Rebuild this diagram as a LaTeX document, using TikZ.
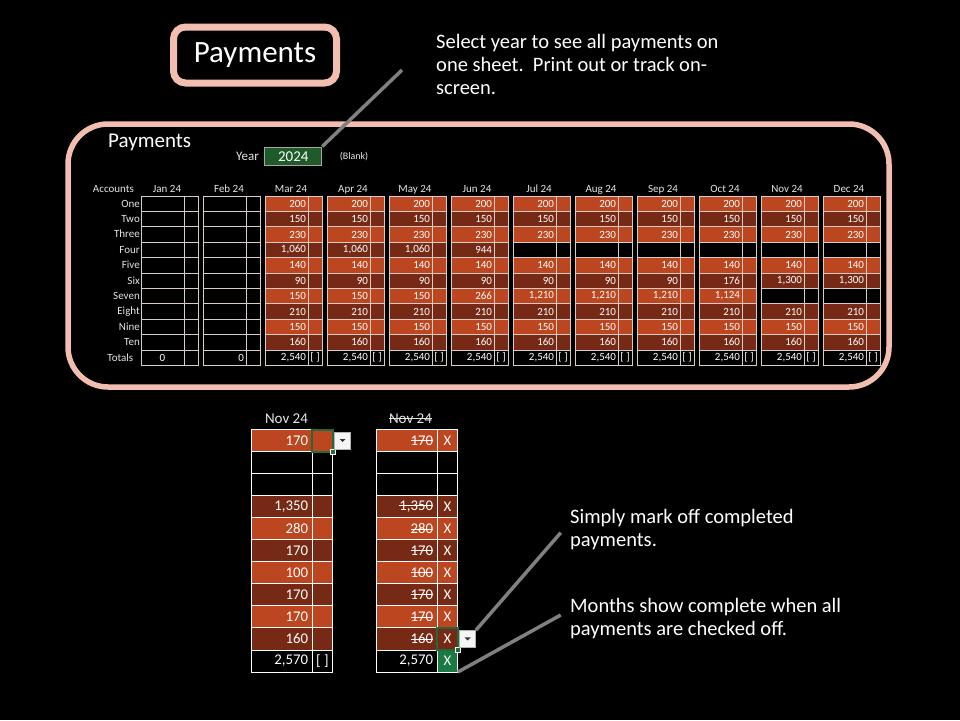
\documentclass[tikz,border=0pt]{standalone}
\usepackage{fontspec}
\setmainfont{Carlito}
\usetikzlibrary{positioning}

\definecolor{PayLight}{RGB}{188,70,32}
\definecolor{PayDark}{RGB}{118,42,22}
\definecolor{CellLine}{RGB}{214,204,200}
\definecolor{FramePink}{RGB}{242,190,176}
\definecolor{YearGreen}{RGB}{30,90,42}
\definecolor{DoneGreen}{RGB}{26,122,68}
\definecolor{SelGreen}{RGB}{36,104,62}
\definecolor{CalloutGray}{RGB}{128,128,128}
\definecolor{SoftWhite}{RGB}{228,228,228}
\def\blankmark{-}
\newcommand\strk[1]{\leavevmode\setbox0=\hbox{#1}%
   \rlap{\rule[0.3em]{\wd0}{0.7pt}}\box0}

\begin{document}
\begin{tikzpicture}[x=1pt, y=-1pt,
      valcell/.style={draw=CellLine, line width=0.8pt, anchor=north west,
         outer sep=0pt, inner xsep=2pt, inner ysep=0pt, text width=39pt,
         minimum height=15.4pt, align=right, text=white,
         font=\fontsize{11}{12}\selectfont},
      markcell/.style={draw=CellLine, line width=0.8pt, anchor=north west,
         outer sep=0pt, inner sep=0pt, minimum width=14pt,
         minimum height=15.4pt, text=white,
         font=\fontsize{11}{12}\selectfont},
      bigval/.style={valcell, draw=white, line width=1pt, inner xsep=4pt,
         text width=53pt, minimum height=22.05pt,
         font=\fontsize{14.8}{16}\selectfont},
      bigmark/.style={markcell, draw=white, line width=1pt,
         minimum width=20.8pt, minimum height=22.05pt,
         font=\fontsize{14.8}{16}\selectfont},
      monthhead/.style={text=SoftWhite, inner sep=0pt, anchor=base,
         font=\fontsize{11}{12}\selectfont},
      acclabel/.style={text=SoftWhite, anchor=base east, inner sep=0pt,
         font=\fontsize{11}{12}\selectfont},
      note/.style={text=white, anchor=north west, align=left, inner sep=0pt,
         font=\fontsize{20.5}{22.6}\selectfont},
      callout/.style={CalloutGray, line width=3.5pt},
      selbox/.style={SelGreen, line width=2pt},
      dropbtn/.style={draw=gray!60, fill=gray!8, line width=0.6pt,
         minimum width=16pt, minimum height=17pt, inner sep=0pt}]
   \useasboundingbox (0,0) rectangle (960,720);
   \fill[black] (0,0) rectangle (960,720);

   % title and sheet frame
   \node (title) at (255,55) [draw=FramePink, line width=7pt,
      rounded corners=12pt, minimum width=163pt, minimum height=56pt,
      text=white, font=\fontsize{31}{36}\selectfont] {Payments};
   \draw[FramePink, line width=5.5pt, rounded corners=40pt]
      (68,124) rectangle (889,387);

   \node (sheet) at (108,142) [anchor=west, inner sep=0pt, text=white,
      font=\fontsize{21}{24}\selectfont] {Payments};
   \node (yearlab) at (259,156) [anchor=east, inner sep=0pt, text=SoftWhite,
      font=\fontsize{13}{15}\selectfont] {Year};
   \node (year) at (293.3,156.2) [fill=YearGreen, draw=gray!70,
      line width=0.8pt, minimum width=57pt, minimum height=18.5pt,
      inner sep=0pt, text=white, font=\fontsize{15}{17}\selectfont] {2024};
   \node (blank) at (354,157) [text=SoftWhite, inner sep=0pt,
      font=\fontsize{10}{12}\selectfont] {(Blank)};

   % account names
   \node[acclabel] (acc-0) at (134,192.5) {Accounts};
   \foreach \acc [count=\r] in {One,Two,Three,Four,Five,Six,Seven,Eight,Nine,Ten}
      \node[acclabel] (acc-\r) at (140,{207.1+15.4*(\r-1)}) {\acc};
   \node[acclabel] (acc-11) at (133.5,361) {Totals};

   % one block per month
   \foreach \mon/\vals/\tot/\mk/\al [count=\i] in {
      Jan 24/{-,-,-,-,-,-,-,-,-,-}/0/{}/center,
      Feb 24/{-,-,-,-,-,-,-,-,-,-}/0/{}/right,
      Mar 24/{200,150,230,1{,}060,140,90,150,210,150,160}/2{,}540/{[ ]}/right,
      Apr 24/{200,150,230,1{,}060,140,90,150,210,150,160}/2{,}540/{[ ]}/right,
      May 24/{200,150,230,1{,}060,140,90,150,210,150,160}/2{,}540/{[ ]}/right,
      Jun 24/{200,150,230,944,140,90,266,210,150,160}/2{,}540/{[ ]}/right,
      Jul 24/{200,150,230,-,140,90,1{,}210,210,150,160}/2{,}540/{[ ]}/right,
      Aug 24/{200,150,230,-,140,90,1{,}210,210,150,160}/2{,}540/{[ ]}/right,
      Sep 24/{200,150,230,-,140,90,1{,}210,210,150,160}/2{,}540/{[ ]}/right,
      Oct 24/{200,150,230,-,140,176,1{,}124,210,150,160}/2{,}540/{[ ]}/right,
      Nov 24/{200,150,230,-,140,1{,}300,-,210,150,160}/2{,}540/{[ ]}/right,
      Dec 24/{200,150,230,-,140,1{,}300,-,210,150,160}/2{,}540/{[ ]}/right}{
      \pgfmathsetmacro\bx{141+62*(\i-1)}
      \node[monthhead] (head-\i) at (\bx+26,192.5) {\mon};
      \foreach \v [count=\r] in \vals {
         \pgfmathsetmacro\by{196+15.4*(\r-1)}
         \edef\cellraw{\v}%
         \ifx\cellraw\blankmark \def\cellfill{black}\def\cellval{}%
         \else \ifodd\r\relax \def\cellfill{PayLight}\else
            \def\cellfill{PayDark}\fi \let\cellval\v \fi
         \node[valcell, fill=\cellfill] (val-\i-\r) at (\bx,\by) {\cellval};
         \node[markcell, fill=\cellfill] (mark-\i-\r) at (val-\i-\r.north east) {};
      }
      \node[valcell, fill=black, align=\al] (val-\i-11) at (\bx,350) {\tot};
      \node[markcell, fill=black] (mark-\i-11) at (val-\i-11.north east) {\mk};
   }

   % zoomed November, before and after marking
   \node[monthhead, font=\fontsize{15}{17}\selectfont] (nov) at (286.5,423.5) {Nov 24};
   \node[monthhead, font=\fontsize{15}{17}\selectfont] (novdone) at (410.5,423.5)
      {\strk{Nov 24}};
   \foreach \v [count=\r] in {170,-,-,1{,}350,280,170,100,170,170,160} {
      \pgfmathsetmacro\by{429.5+22.05*(\r-1)}
      \edef\cellraw{\v}%
      \ifx\cellraw\blankmark \def\cellfill{black}\def\cellval{}\def\cellmark{}%
      \else \ifodd\r\relax \def\cellfill{PayLight}\else
         \def\cellfill{PayDark}\fi \let\cellval\v \def\cellmark{X}\fi
      \node[bigval, fill=\cellfill] (nv-\r) at (251,\by) {\cellval};
      \node[bigmark, fill=\cellfill] (nm-\r) at (nv-\r.north east) {};
      \node[bigval, fill=\cellfill] (dv-\r) at (376,\by) {\strk{\cellval}};
      \node[bigmark, fill=\cellfill] (dm-\r) at (dv-\r.north east) {\cellmark};
   }
   \node[bigval, fill=black] (nv-11) at (251,650) {2{,}570};
   \node[bigmark, fill=black] (nm-11) at (nv-11.north east) {[ ]};
   \node[bigval, fill=black] (dv-11) at (376,650) {2{,}570};
   \node[bigmark, fill=DoneGreen] (dm-11) at (dv-11.north east) {X};

   % selected cells with their drop-down buttons
   \draw[selbox] (nm-1.north west) rectangle (nm-1.south east);
   \fill[SelGreen, draw=white, line width=0.5pt]
      ([shift={(-2.5,-2.5)}]nm-1.south east) rectangle ([shift={(2.5,2.5)}]nm-1.south east);
   \node[dropbtn, right=1.5pt of nm-1] (drop-1) {};
   \fill[gray!40!black] ([shift={(-3,-1.5)}]drop-1.center) --
      ([shift={(3,-1.5)}]drop-1.center) -- ([shift={(0,1.5)}]drop-1.center) -- cycle;

   \draw[selbox] (dm-10.north west) rectangle (dm-10.south east);
   \fill[SelGreen, draw=white, line width=0.5pt]
      ([shift={(-2.5,-2.5)}]dm-10.south east) rectangle ([shift={(2.5,2.5)}]dm-10.south east);
   \node[dropbtn, right=1.5pt of dm-10] (drop-2) {};
   \fill[gray!40!black] ([shift={(-3,-1.5)}]drop-2.center) --
      ([shift={(3,-1.5)}]drop-2.center) -- ([shift={(0,1.5)}]drop-2.center) -- cycle;

   % notes and their pointers
   \node[note] (yearnote) at (436,34.5) {Select year to see all payments on\\
      one sheet.\ \ Print out or track on-\\screen.};
   \node[note] (marknote) at (570,509.5) {Simply mark off completed\\payments.};
   \node[note] (donenote) at (570,598) {Months show complete when all\\
      payments are checked off.};
   \coordinate (yeartip) at (402,70);
   \coordinate (marktip) at (560.7,532.7);
   \coordinate (donetip) at (560.7,615);
   \draw[callout] (year.north east) -- (yeartip);
   \draw[callout] (drop-2.north east) -- (marktip);
   \draw[callout] (dm-11.south east) -- (donetip);
\end{tikzpicture}
\end{document}
